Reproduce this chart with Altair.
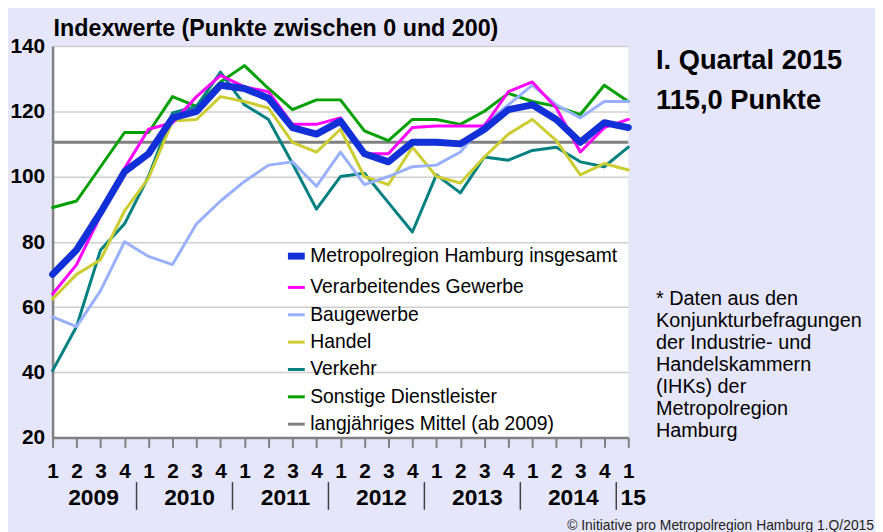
import json
import altair as alt
import pandas as pd

# ---------------- data ----------------
quarters = list(range(25))  # 2009 Q1 ... 2015 Q1
quarter_nums = ["1", "2", "3", "4"] * 6 + ["1"]
years = ["2009", "2010", "2011", "2012", "2013", "2014", "15"]

names = [
    "Metropolregion Hamburg insgesamt",
    "Verarbeitendes Gewerbe",
    "Baugewerbe",
    "Handel",
    "Verkehr",
    "Sonstige Dienstleister",
]
mean_name = "langjähriges Mittel (ab 2009)"
mean_value = 110.5

metro = [70, 77.5, 89, 101.5, 107, 118, 120, 128, 127, 124, 115, 113, 117,
         107, 104.5, 110.5, 110.5, 110, 114.5, 120.5, 122, 117.5, 110.5, 116.5, 115]
verarb = [64, 73, 88, 102.5, 114.5, 116.5, 124.5, 131, 127.5, 126, 116, 116, 118,
          107, 107, 115, 115.5, 115.5, 115.5, 126, 129, 121, 107.5, 115, 117.5]
bau = [57, 54, 65, 80, 75.5, 73, 85.5, 92.5, 98.5, 103.5, 104.5, 97, 107.5,
       97.5, 100, 103, 103.5, 107.5, 116, 122, 128, 122, 118, 123, 123]
handel = [62.5, 70, 74.5, 89.5, 99.5, 117, 117.5, 124.5, 123, 121, 110.5, 107.5, 114.5,
          100, 97.5, 109, 100, 98, 106, 113, 117.5, 111, 100.5, 104, 102]
verkehr = [40.5, 54, 77.5, 85.5, 100, 119.5, 121.5, 132, 122, 117.5, 104, 90, 100,
           101, 92, 83, 100.5, 95, 106, 105, 108, 109, 104.5, 103, 109]
sonst = [90.5, 92.5, 103, 113.5, 113.5, 124.5, 121.5, 129, 134, 127, 120.5, 123.5, 123.5,
         114, 111, 117.5, 117.5, 116, 120, 125.5, 123, 121.5, 119, 128, 123]

values = [metro, verarb, bau, handel, verkehr, sonst]

colors = ["#1230D8", "#FF00FF", "#99B0FF", "#CCCC33", "#008080", "#00A000", "#808080"]
widths = [7, 3, 3, 3, 3, 3, 3]

title_text = "Indexwerte (Punkte zwischen 0 und 200)"
side_title = ["I. Quartal 2015", "115,0 Punkte"]
footnote = ["* Daten aus den", "Konjunkturbefragungen", "der Industrie- und",
            "Handelskammern", "(IHKs) der", "Metropolregion", "Hamburg"]
copyright_text = "© Initiative pro Metropolregion Hamburg 1.Q/2015"

FONT = "Liberation Sans"

# ---------------- chart ----------------
domain = names + [mean_name]

x_enc = alt.X(
    "q:Q",
    scale=alt.Scale(domain=[0, 24], nice=False, zero=False),
    axis=alt.Axis(
        values=quarters,
        labelExpr=f"{json.dumps(quarter_nums)}[datum.value]",
        grid=False, title=None,
        domainColor="#808080", domainWidth=2.5,
        tickColor="#808080", tickWidth=2, tickSize=10,
        labelFont=FONT, labelFontSize=21, labelFontWeight="bold", labelColor="black",
        labelPadding=13, labelFlush=False, labelOverlap=False, labelBound=False,
        labelSeparation=0,
    ),
)
y_enc = alt.Y(
    "v:Q",
    scale=alt.Scale(domain=[20, 140], nice=False, zero=False),
    axis=alt.Axis(
        values=[20, 40, 60, 80, 100, 120, 140],
        grid=True, gridColor="#CFCFCF", gridWidth=1.5,
        domainColor="#808080", domainWidth=2.5, ticks=False,
        labelFont=FONT, labelFontSize=21, labelFontWeight="bold", labelColor="black",
        labelPadding=8, labelOffset=0.5, title=None,
    ),
)
legend_def = alt.Legend(
    title=None, orient="none", legendX=234, legendY=200,
    symbolType="stroke", symbolSize=289, labelFont=FONT, labelFontSize=19.5,
    labelColor="black", labelOffset=2, rowPadding=7.6, padding=0,
    labelLimit=400,
)
color_enc = alt.Color("series:N", scale=alt.Scale(domain=domain, range=colors), legend=legend_def)
sw_enc = alt.StrokeWidth(
    "series:N",
    scale=alt.Scale(type="ordinal", domain=domain, range=widths),
    legend=legend_def,
)

mean_df = pd.DataFrame({"series": [mean_name], "v": [mean_value]})
layers = [alt.Chart(mean_df).mark_rule().encode(y=y_enc, color=color_enc, strokeWidth=sw_enc)]

draw_order = [5, 4, 3, 2, 1, 0]
for k in draw_order:
    df = pd.DataFrame({"q": quarters, "v": values[k], "series": names[k]})
    layers.append(
        alt.Chart(df).mark_line(strokeJoin="round", strokeCap="round").encode(
            x=x_enc, y=y_enc, color=color_enc, strokeWidth=sw_enc
        )
    )

# year labels and separators (derived from quarter/year structure)
year_idx = [i // 4 for i in quarters]
centers = [sum(i for i in quarters if year_idx[i] == y) / year_idx.count(y) for y in range(len(years))]
year_df = pd.DataFrame({"year": years, "q": centers})
sep_df = pd.DataFrame({"q": [4 * k - 0.5 for k in range(1, len(years))]})

layers.append(
    alt.Chart(year_df).mark_text(
        font=FONT, fontSize=23, fontWeight="bold", color="black", baseline="alphabetic", dx=5
    ).encode(x=x_enc, y=alt.value(463), text="year:N")
)
layers.append(
    alt.Chart(sep_df).mark_rule(color="#404040", strokeWidth=1.5).encode(
        x=x_enc, y=alt.value(440), y2=alt.value(468)
    )
)

# texts
layers.append(
    alt.Chart(pd.DataFrame({"t": [title_text]})).mark_text(
        font=FONT, fontSize=23.5, fontWeight="bold", color="black", align="left", baseline="alphabetic"
    ).encode(x=alt.value(1), y=alt.value(-10), text="t:N")
)
layers.append(
    alt.Chart(pd.DataFrame({"t": [side_title[0]]})).mark_text(
        font=FONT, fontSize=27.5, fontWeight="bold", color="black", align="left", baseline="alphabetic"
    ).encode(x=alt.value(609), y=alt.value(23), text="t:N")
)
layers.append(
    alt.Chart(pd.DataFrame({"t": [side_title[1]]})).mark_text(
        font=FONT, fontSize=27.5, fontWeight="bold", color="black", align="left", baseline="alphabetic"
    ).encode(x=alt.value(609), y=alt.value(64), text="t:N")
)
layers.append(
    alt.Chart(pd.DataFrame({"t": ["\n".join(footnote)]})).mark_text(
        font=FONT, fontSize=20, color="black", align="left", baseline="alphabetic",
        lineBreak="\n", lineHeight=22.3
    ).encode(x=alt.value(609), y=alt.value(261), text="t:N")
)
layers.append(
    alt.Chart(pd.DataFrame({"t": [copyright_text]})).mark_text(
        font=FONT, fontSize=14, color="#222222", align="right", baseline="alphabetic"
    ).encode(x=alt.value(829), y=alt.value(488), text="t:N")
)

chart = (
    alt.layer(*layers)
    .properties(
        width=581, height=395,
        autosize=alt.AutoSizeParams(type="none"),
        padding={"left": 45, "top": 36, "right": 249, "bottom": 93},
        background="#E6E6FA",
    )
    .configure_view(fill="white", stroke=None)
)

chart.save("out.html", embed_options={"renderer": "svg", "actions": False})
